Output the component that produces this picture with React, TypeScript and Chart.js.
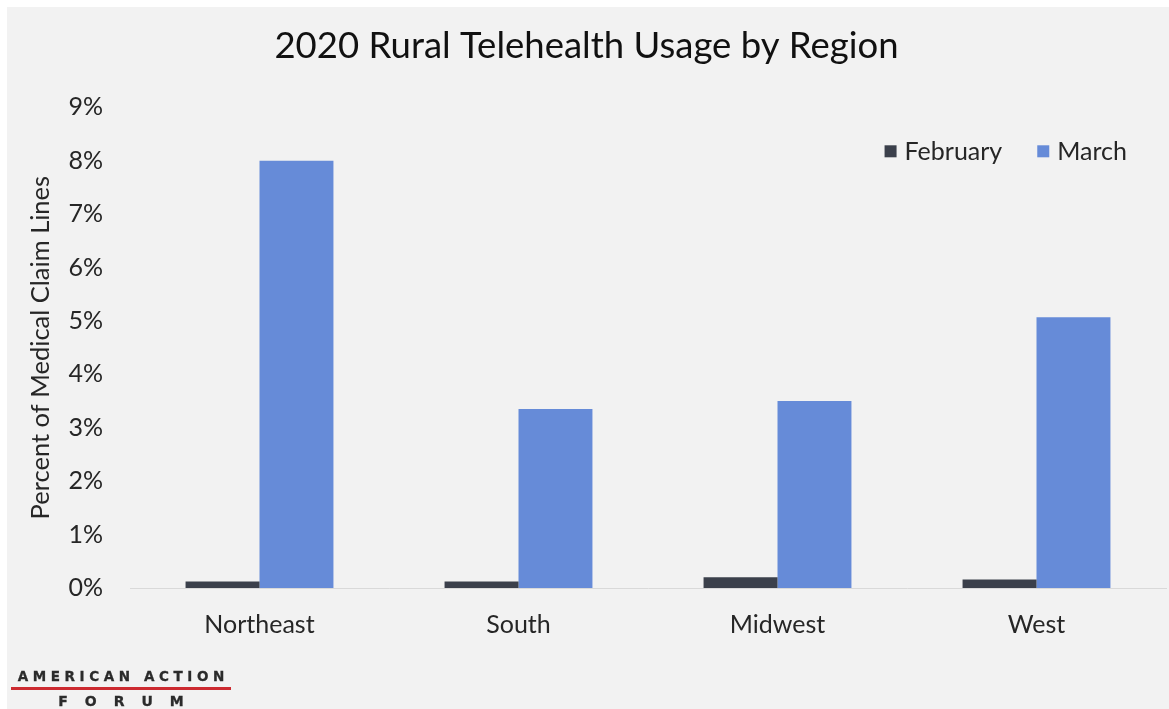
import React, { useEffect, useRef } from "react";
import { Chart, registerables } from "chart.js";

Chart.register(...registerables);

const categories = ["Northeast", "South", "Midwest", "West"];
const februaryValues = [0.12, 0.12, 0.2, 0.16];
const marchValues = [8.0, 3.35, 3.5, 5.07];
const seriesNames = ["February", "March"];
const yTickMax = 9;
const titleText = "2020 Rural Telehealth Usage by Region";
const yAxisTitle = "Percent of Medical Claim Lines";

const FONT = "Lato, 'Open Sans', sans-serif";
const TEXT = "#262626";

const customLegend = {
  id: "customLegend",
  afterDraw(chart: any) {
    const ctx = chart.ctx;
    const area = chart.chartArea;
    const fontSize = 25;
    ctx.save();
    ctx.font = `${fontSize}px ${FONT}`;
    ctx.textBaseline = "middle";
    ctx.textAlign = "left";
    const box = 12;
    const gapBoxText = 8;
    const gapItems = 35;
    const cy = area.top + 44;
    const items = chart.data.datasets.map((d: any) => ({
      label: d.label,
      color: d.backgroundColor,
      w: box + gapBoxText + ctx.measureText(d.label).width,
    }));
    let x = area.right - 39;
    for (let i = items.length - 1; i >= 0; i--) {
      x -= items[i].w;
      items[i].x = x;
      x -= gapItems;
    }
    for (const it of items) {
      ctx.fillStyle = it.color;
      ctx.fillRect(it.x, cy - box / 2, box, box);
      ctx.fillStyle = TEXT;
      ctx.fillText(it.label, it.x + box + gapBoxText, cy + 1);
    }
    ctx.restore();
  },
};

export default function App() {
  const ref = useRef<HTMLCanvasElement | null>(null);

  useEffect(() => {
    if (!ref.current) return;
    const chart = new Chart(ref.current, {
      type: "bar",
      data: {
        labels: categories,
        datasets: [
          {
            label: seriesNames[0],
            data: februaryValues,
            backgroundColor: "#3b404b",
            borderWidth: 0,
            categoryPercentage: 0.571,
            barPercentage: 1,
          },
          {
            label: seriesNames[1],
            data: marchValues,
            backgroundColor: "#668bd8",
            borderWidth: 0,
            categoryPercentage: 0.571,
            barPercentage: 1,
          },
        ],
      },
      plugins: [customLegend],
      options: {
        responsive: false,
        animation: false,
        layout: { padding: { left: 0, right: 3, top: 0, bottom: 61 } },
        plugins: {
          title: {
            display: true,
            text: titleText,
            color: "#111",
            font: { family: FONT, size: 36.5, weight: "normal", lineHeight: 1.2 },
            padding: { top: 17, bottom: 39.5 },
          },
          legend: { display: false },
          tooltip: { enabled: false },
        },
        scales: {
          x: {
            grid: { display: false, drawTicks: false },
            border: { display: true, color: "#d9d9d9", width: 1 },
            ticks: {
              color: TEXT,
              padding: 22,
              font: { family: FONT, size: 25 },
            },
            afterFit: (scale: any) => {
              scale.height = 60;
            },
          },
          y: {
            min: 0,
            max: yTickMax,
            grid: { display: false, drawTicks: false },
            border: { display: false },
            ticks: {
              stepSize: 1,
              color: TEXT,
              padding: 27,
              font: { family: FONT, size: 25 },
              callback: (v: any) => v + "%",
            },
            title: {
              display: true,
              text: yAxisTitle,
              color: TEXT,
              font: { family: FONT, size: 25.5 },
              padding: { top: 18, bottom: 0 },
            },
            afterFit: (scale: any) => {
              scale.width = 123;
            },
          },
        },
      },
    });
    return () => chart.destroy();
  }, []);

  return (
    <div
      style={{
        position: "absolute",
        left: 7,
        top: 7,
        width: 1162,
        height: 702,
        background: "#f2f2f2",
        overflow: "hidden",
      }}
    >
      <canvas ref={ref} width={1162} height={702} style={{ display: "block" }} />
      <div
        style={{
          position: "absolute",
          left: 4,
          top: 663,
          width: 220,
          fontFamily: "'DejaVu Sans', 'Liberation Sans', sans-serif",
          fontWeight: 700,
          color: "#2b2b2b",
          textAlign: "center",
          lineHeight: 1,
          WebkitTextStroke: "0.3px #2b2b2b",
        }}
      >
        <div style={{ fontSize: 13.5, letterSpacing: 4.6, whiteSpace: "nowrap", marginRight: -4.6 }}>
          AMERICAN ACTION
        </div>
        <div style={{ height: 3, background: "#cc2a30", marginTop: 3 }} />
        <div style={{ fontSize: 14, letterSpacing: 17, whiteSpace: "nowrap", marginTop: 4, marginRight: -17 }}>
          FORUM
        </div>
      </div>
    </div>
  );
}
